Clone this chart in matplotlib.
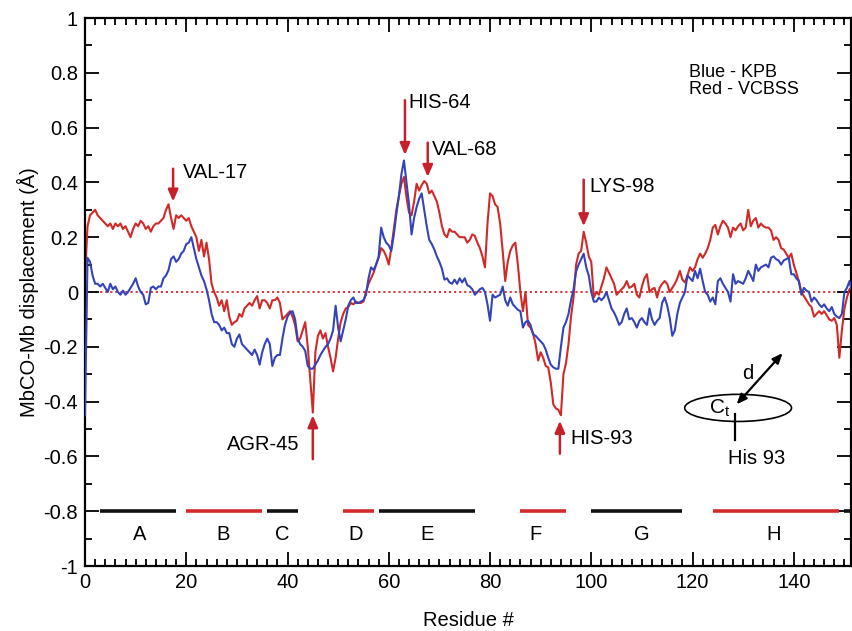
import numpy as np
import matplotlib
matplotlib.use("Agg")
import matplotlib.pyplot as plt
from matplotlib.patches import Ellipse
from matplotlib.ticker import MultipleLocator, FixedLocator, FixedFormatter

plt.rcParams['font.family'] = ['Liberation Sans', 'DejaVu Sans']
plt.rcParams['axes.unicode_minus'] = False

# residue grid (0.5 residue steps)
residue = np.arange(0, 152, 0.5)

# Red - VCBSS
vcbss = (
    [0.05, 0.24, 0.28, 0.29, 0.30, 0.28, 0.27, 0.26, 0.25, 0.24, 0.25, 0.23, 0.25, 0.24, 0.25, 0.23, 0.24, 0.22, 0.20, 0.23]
  + [0.25, 0.24, 0.26, 0.25, 0.23, 0.24, 0.22, 0.24, 0.25, 0.25, 0.26, 0.27, 0.30, 0.32, 0.27, 0.23, 0.28, 0.27, 0.28, 0.27]
  + [0.26, 0.27, 0.24, 0.22, 0.20, 0.15, 0.19, 0.13, 0.18, 0.12, 0.03, 0.00, -0.02, -0.05, -0.03, -0.07, -0.03, -0.09, -0.12, -0.11]
  + [-0.105, -0.08, -0.09, -0.06, -0.05, -0.04, -0.05, -0.03, -0.015, -0.06, -0.03, -0.03, -0.04, -0.06, -0.03, -0.03, -0.02, -0.04, -0.10, -0.09]
  + [-0.08, -0.07, -0.09, -0.12, -0.18, -0.17, -0.14, -0.11, -0.20, -0.32, -0.44, -0.22, -0.16, -0.14, -0.17, -0.15, -0.20, -0.24, -0.29, -0.24]
  + [-0.17, -0.11, -0.08, -0.06, -0.055, -0.04, -0.045, -0.035, -0.04, -0.04, -0.035, 0.0, 0.03, 0.05, 0.07, 0.10, 0.125, 0.16, 0.15, 0.13]
  + [0.10, 0.16, 0.23, 0.30, 0.35, 0.395, 0.42, 0.345, 0.29, 0.28, 0.33, 0.395, 0.37, 0.39, 0.405, 0.395, 0.36, 0.37, 0.35, 0.33]
  + [0.29, 0.24, 0.21, 0.20, 0.23, 0.22, 0.22, 0.21, 0.20, 0.20, 0.20, 0.18, 0.19, 0.21, 0.205, 0.18, 0.16, 0.13, 0.09, 0.25]
  + [0.36, 0.35, 0.32, 0.31, 0.25, 0.15, 0.04, 0.11, 0.15, 0.17, 0.18, 0.10, 0.0, -0.07, 0.0, -0.12, -0.13, -0.15, -0.19, -0.25]
  + [-0.22, -0.24, -0.27, -0.275, -0.33, -0.41, -0.425, -0.43, -0.45, -0.30, -0.26, -0.19, -0.09, -0.02, 0.10, 0.14, 0.15, 0.22, 0.18, 0.13]
  + [0.11, -0.02, 0.0, -0.01, 0.02, 0.05, 0.09, 0.07, 0.05, 0.03, -0.01, 0.0, 0.01, 0.02, 0.04, 0.015, 0.02, 0.03, -0.01, -0.02]
  + [0.02, 0.05, 0.065, 0.0, 0.01, 0.015, -0.02, 0.015, 0.03, 0.04, 0.03, 0.0, 0.015, 0.03, 0.05, 0.077, 0.045, 0.035, 0.06, 0.09]
  + [0.077, 0.09, 0.12, 0.14, 0.125, 0.14, 0.16, 0.19, 0.235, 0.245, 0.21, 0.24, 0.26, 0.25, 0.235, 0.20, 0.235, 0.225, 0.24, 0.25]
  + [0.225, 0.235, 0.30, 0.24, 0.26, 0.27, 0.235, 0.25, 0.24, 0.235, 0.235, 0.225, 0.19, 0.20, 0.19, 0.16, 0.155, 0.14, 0.125, 0.14]
  + [0.10, 0.07, 0.04, 0.0, -0.015, -0.03, -0.045, -0.055, -0.09, -0.08, -0.07, -0.08, -0.07, -0.085, -0.10, -0.105, -0.095, -0.12, -0.24, -0.14]
  + [-0.06, -0.02, 0.01, 0.015]
)

# Blue - KPB
kpb = (
    [-0.45, 0.125, 0.11, 0.06, 0.03, 0.03, 0.02, 0.03, 0.015, 0.0, 0.03, 0.01, 0.02, 0.0, -0.01, 0.005, -0.01, 0.0, 0.015, 0.03]
  + [0.05, 0.02, 0.0, -0.01, -0.045, -0.04, 0.015, 0.02, 0.01, 0.02, 0.02, 0.05, 0.06, 0.08, 0.12, 0.13, 0.11, 0.12, 0.14, 0.15]
  + [0.175, 0.18, 0.20, 0.16, 0.12, 0.09, 0.06, 0.04, 0.01, -0.03, -0.08, -0.11, -0.11, -0.12, -0.14, -0.13, -0.15, -0.15, -0.19, -0.20]
  + [-0.17, -0.155, -0.19, -0.20, -0.21, -0.22, -0.23, -0.21, -0.23, -0.265, -0.22, -0.19, -0.17, -0.19, -0.27, -0.24, -0.23, -0.23, -0.17, -0.12]
  + [-0.09, -0.075, -0.07, -0.10, -0.17, -0.19, -0.20, -0.215, -0.27, -0.28, -0.28, -0.265, -0.25, -0.23, -0.215, -0.20, -0.19, -0.17, -0.14, -0.05]
  + [-0.13, -0.18, -0.14, -0.10, -0.05, -0.03, -0.02, -0.04, -0.04, -0.035, -0.03, -0.01, 0.05, 0.09, 0.08, 0.10, 0.13, 0.235, 0.20, 0.18]
  + [0.17, 0.15, 0.21, 0.285, 0.35, 0.43, 0.48, 0.40, 0.32, 0.21, 0.27, 0.31, 0.34, 0.36, 0.30, 0.24, 0.19, 0.175, 0.155, 0.13]
  + [0.11, 0.085, 0.045, 0.05, 0.035, 0.03, 0.045, 0.03, 0.05, 0.035, 0.05, 0.025, 0.02, 0.01, -0.01, 0.0, 0.01, 0.015, 0.0, -0.045]
  + [-0.105, -0.01, -0.02, -0.015, -0.01, 0.02, -0.03, -0.05, -0.02, -0.045, -0.055, -0.065, -0.07, -0.13, -0.11, -0.105, -0.12, -0.155, -0.16, -0.17]
  + [-0.18, -0.19, -0.21, -0.24, -0.265, -0.275, -0.28, -0.28, -0.20, -0.13, -0.11, -0.08, -0.03, 0.01, 0.075, 0.10, 0.12, 0.14, 0.09, 0.06]
  + [0.0, -0.035, -0.035, -0.02, -0.03, -0.02, 0.0, -0.03, -0.06, -0.075, -0.095, -0.12, -0.11, -0.08, -0.06, -0.10, -0.095, -0.11, -0.13, -0.105]
  + [-0.095, -0.11, -0.12, -0.06, -0.10, -0.12, -0.105, -0.095, -0.04, -0.02, -0.05, -0.095, -0.16, -0.14, -0.08, -0.04, -0.02, 0.0, 0.06, 0.05]
  + [0.04, 0.077, 0.05, 0.085, 0.04, 0.0, -0.01, -0.035, -0.02, -0.045, 0.04, 0.05, 0.03, 0.015, 0.0, -0.035, 0.065, 0.03, 0.04, 0.035]
  + [0.03, 0.05, 0.077, 0.06, 0.04, 0.10, 0.077, 0.09, 0.095, 0.10, 0.09, 0.125, 0.13, 0.12, 0.115, 0.10, 0.115, 0.12, 0.125, 0.065]
  + [0.065, 0.05, 0.04, -0.01, 0.015, 0.005, 0.0, -0.035, -0.02, -0.03, -0.045, -0.055, -0.045, -0.06, -0.07, -0.055, -0.08, -0.09, -0.095, -0.08]
  + [0.0, 0.015, 0.04, 0.0]
)

# secondary-structure helices
helix_names = ['A', 'B', 'C', 'D', 'E', 'F', 'G', 'H', '']
helix_start = [3, 20, 36, 51, 58, 86, 100, 124, 150]
helix_end = [18, 35, 42, 57, 77, 95, 118, 149, 153]
helix_color = ['k', 'r', 'k', 'r', 'k', 'r', 'k', 'r', 'k']
helix_label_x = [10.7, 27.3, 39.0, 53.5, 67.5, 89.0, 110.0, 136.0, None]

# residue annotations: label, x, arrow tail y, arrow head y, text x, text y, ha
ann_labels = ['VAL-17', 'HIS-64', 'VAL-68', 'LYS-98', 'AGR-45', 'HIS-93']
ann_x = [17.4, 63.2, 67.7, 98.5, 45.0, 93.8]
ann_tail = [0.45, 0.70, 0.545, 0.41, -0.61, -0.59]
ann_head = [0.33, 0.50, 0.42, 0.24, -0.45, -0.47]
ann_tx = [19.3, 63.8, 68.5, 99.7, 42.4, 95.8]
ann_ty = [0.435, 0.69, 0.52, 0.385, -0.556, -0.534]
ann_ha = ['left', 'left', 'left', 'left', 'right', 'left']

RED = '#cf2a27'
BLUE = '#3444b8'

fig = plt.figure(figsize=(8.52, 6.31), dpi=100)
ax = fig.add_axes([85/852, 65/631, 766/852, 548/631])

ax.axhline(0, color=RED, lw=1.3, ls=(0, (1.2, 1.6)), zorder=1)
ax.plot(residue, vcbss, color=RED, lw=1.5, zorder=2)
ax.plot(residue, kpb, color=BLUE, lw=1.5, zorder=3)

for s, e, c, name, lx in zip(helix_start, helix_end, helix_color, helix_names, helix_label_x):
    ax.plot([s, e], [-0.8, -0.8], color=('#d42a2a' if c == 'r' else '#111111'), lw=2.6,
            solid_capstyle='butt', zorder=2)
    if lx is not None:
        ax.text(lx, -0.885, name, ha='center', va='center', fontsize=14.5)

for lab, x, t, h, tx, ty, ha in zip(ann_labels, ann_x, ann_tail, ann_head, ann_tx, ann_ty, ann_ha):
    ax.annotate('', xy=(x, h), xytext=(x, t),
                arrowprops=dict(arrowstyle='-|>,head_length=0.7,head_width=0.3',
                                color='#c8202a', lw=1.8, shrinkA=0, shrinkB=0))
    ax.text(tx, ty, lab, ha=ha, va='center', fontsize=14.5)

# legend text
ax.text(119.4, 0.80, 'Blue - KPB', ha='left', va='center', fontsize=13)
ax.text(119.4, 0.74, 'Red - VCBSS', ha='left', va='center', fontsize=13)

# inset diagram
ax.add_patch(Ellipse((129.0, -0.423), 21.1, 0.099, fill=False, ec='k', lw=1.2))
ax.annotate('', xy=(128.7, -0.41), xytext=(137.8, -0.223),
            arrowprops=dict(arrowstyle='<|-|>,head_length=0.6,head_width=0.25',
                            color='k', lw=1.6, shrinkA=0, shrinkB=0))
ax.plot([128.3, 128.3], [-0.446, -0.541], color='k', lw=1.6)
ax.text(130.9, -0.296, 'd', ha='center', va='center', fontsize=14.5)
ax.text(125.4, -0.424, r'C$_\mathregular{t}$', ha='center', va='center', fontsize=15)
ax.text(132.7, -0.607, 'His 93', ha='center', va='center', fontsize=14.5)

ax.set_xlim(0, 151.3)
ax.set_ylim(-1, 1)
ax.xaxis.set_major_locator(MultipleLocator(20))
ax.xaxis.set_minor_locator(MultipleLocator(2))
yt = [-1, -0.8, -0.6, -0.4, -0.2, 0, 0.2, 0.4, 0.6, 0.8, 1]
ytl = ['-1', '-0.8', '-0.6', '-0.4', '-0.2', '0', '0.2', '0.4', '0.6', '0.8', '1']
ax.yaxis.set_major_locator(FixedLocator(yt))
ax.yaxis.set_major_formatter(FixedFormatter(ytl))
ax.yaxis.set_minor_locator(MultipleLocator(0.1))
ax.tick_params(which='both', direction='in', top=True, right=True, width=1.3,
               labelsize=14.5, pad=5)
ax.tick_params(which='major', length=10)
ax.tick_params(which='minor', length=5)
for sp in ax.spines.values():
    sp.set_linewidth(1.6)

ax.set_xlabel('Residue #', fontsize=14.5, labelpad=14)
ax.set_ylabel('MbCO-Mb displacement (Å)', fontsize=14.5, va='center')
ax.yaxis.set_label_coords(-57/766, 0.5)

fig.savefig('out.png', dpi=100)
